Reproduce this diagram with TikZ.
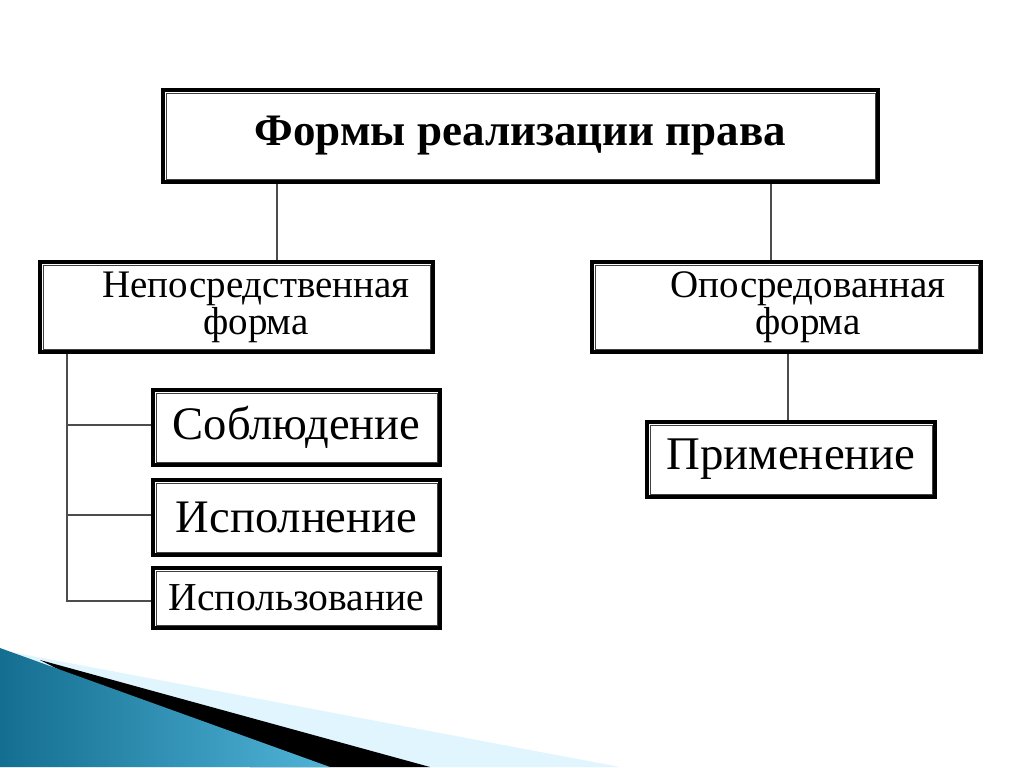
\documentclass[tikz,border=0pt]{standalone}
\usepackage{fontspec}
\setmainfont{Liberation Serif}
\begin{document}
\begin{tikzpicture}[x=0.5pt,y=-0.5pt,
  dbox/.style={draw=black,line width=1.6pt,fill=white,inner sep=0pt},
  conn/.style={draw=black!70,line width=0.6pt}]
\useasboundingbox (0,0) rectangle (1024,767);
\fill[white] (0,0) rectangle (1024,767);
% decoration
\fill[cyan!12!white] (0,650) -- (620,767) -- (0,767) -- cycle;
\fill[black] (40,660) -- (430,767) -- (250,767) -- cycle;
\shade[left color={rgb,255:red,20;green,110;blue,145}, right color={rgb,255:red,80;green,180;blue,215}] (0,648) -- (330,767) -- (0,767) -- cycle;
% boxes
\node[dbox,minimum width=357.5pt,minimum height=46pt] (t) at (520.5,136) {};
\node[dbox,minimum width=196.5pt,minimum height=45pt] (l) at (236.5,307) {};
\node[dbox,minimum width=194.5pt,minimum height=45pt] (r) at (786.5,307) {};
\node[dbox,minimum width=143.5pt,minimum height=37.5pt] (s) at (296.5,427.5) {};
\node[dbox,minimum width=143.5pt,minimum height=37.5pt] (i) at (296.5,517.5) {};
\node[dbox,minimum width=143.5pt,minimum height=30pt] (u) at (296.5,598) {};
\node[dbox,minimum width=144pt,minimum height=37.5pt] (p) at (791,459.5) {};
\foreach \n in {t,l,r,s,i,u,p}
  \draw[black!75,line width=0.5pt] ([shift={(2.3pt,2.3pt)}]\n.south west) rectangle ([shift={(-2.3pt,-2.3pt)}]\n.north east);
% texts
\node[font=\fontsize{22.5}{26}\selectfont\bfseries] at (t.center) {Формы реализации права};
\node[align=center,font=\fontsize{19.5}{18.5}\selectfont] at (256,307) {Непосредственная\\форма};
\node[align=center,font=\fontsize{19.5}{18.5}\selectfont] at (808,307) {Опосредованная\\форма};
\node[font=\fontsize{23.3}{26}\selectfont] at (s.center) {Соблюдение};
\node[font=\fontsize{23.3}{26}\selectfont] at (i.center) {Исполнение};
\node[font=\fontsize{19.8}{22}\selectfont] at (u.center) {Использование};
\node[font=\fontsize{23.4}{26}\selectfont] at (p.center) {Применение};
% connectors
\draw[conn] (t.south -| 277,0) -- (l.north -| 277,0);
\draw[conn] (t.south -| 771,0) -- (r.north -| 771,0);
\draw[conn] (l.south -| 67,0) -- (67,601) -- (u.west |- 0,601);
\draw[conn] (67,425) -- (s.west |- 0,425);
\draw[conn] (67,515) -- (i.west |- 0,515);
\draw[conn] (r.south -| 788,0) -- (p.north -| 788,0);
\end{tikzpicture}
\end{document}
